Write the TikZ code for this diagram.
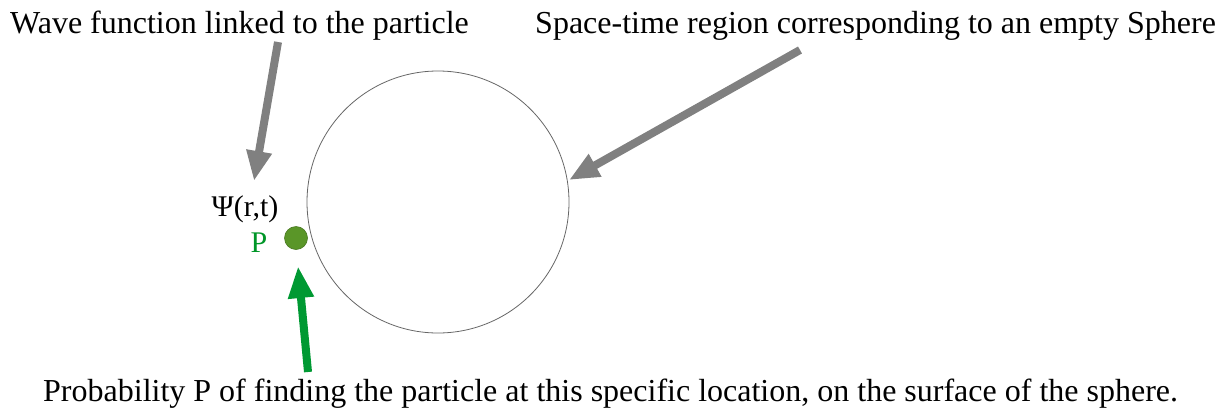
\documentclass[tikz,border=0pt]{standalone}
\usepackage{fontspec}
\setmainfont{Liberation Serif}
\usetikzlibrary{arrows.meta}
\definecolor{arrowgray}{RGB}{128,128,128}
\definecolor{arrowgreen}{RGB}{0,153,51}
\definecolor{dotgreen}{RGB}{90,150,40}
\definecolor{labelgreen}{RGB}{0,150,40}
\tikzset{
  lbl/.style={font=\fontsize{32}{38}\selectfont, inner sep=0pt, anchor=base west},
  grayarrow/.style={draw=arrowgray, line width=8pt, -{Triangle[length=30pt,width=24pt]}, shorten >=0pt},
  greenarrow/.style={draw=arrowgreen, line width=8pt, -{Triangle[length=32pt,width=24pt]}},
}
\begin{document}
\begin{tikzpicture}[x=1pt,y=-1pt]
\useasboundingbox (0,0) rectangle (1225,410);
\node[lbl] (wave) at (10,33) {Wave function linked to the particle};
\node[lbl] (space) at (535,33) {Space-time region corresponding to an empty Sphere};
\node[lbl] (prob) at (43,401) {Probability P of finding the particle at this specific location, on the surface of the sphere.};
\node[draw=black!60, line width=0.8pt, circle, minimum size=262pt, inner sep=0pt] (sphere) at (438,202) {};
\node[circle, fill=dotgreen, draw=dotgreen!80!black, line width=0.6pt, minimum size=23pt, inner sep=0pt] (dot) at (296,238) {};
\node[font=\fontsize{30}{36}\selectfont, inner sep=0pt] (psi) at (245,209) {Ψ(r,t)};
\node[font=\fontsize{30}{36}\selectfont, text=labelgreen, inner sep=0pt] (plabel) at (259,243) {P};
\coordinate (t1) at (278,42);
\coordinate (h1) at (254,181);
\coordinate (t2) at (800,50);
\coordinate (h2) at (569,180);
\coordinate (t3) at (308,372);
\coordinate (h3) at (298,266);
\draw[grayarrow] (t1) -- (h1);
\draw[grayarrow] (t2) -- (h2);
\draw[greenarrow] (t3) -- (h3);
\end{tikzpicture}
\end{document}
